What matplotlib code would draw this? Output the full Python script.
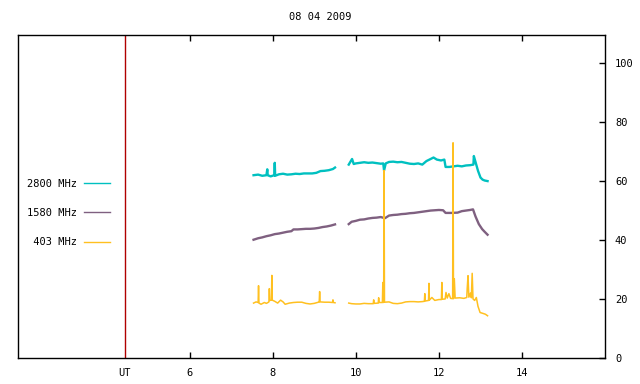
import numpy as np
import matplotlib
matplotlib.use('Agg')
import matplotlib.pyplot as plt

nan = np.nan

# 2800 MHz
t_2800 = [7.54, 7.65, 7.75, 7.85, 7.87, 7.88, 7.95, 8.04, 8.05, 8.06, 8.15, 8.25, 8.35, 8.45,
          8.55, 8.65, 8.75, 8.85, 8.95, 9.05, 9.15, 9.25, 9.35, 9.45, 9.50,
          9.65,
          9.83, 9.91, 9.95, 10.0, 10.1, 10.2, 10.3, 10.4, 10.5, 10.6, 10.66, 10.68, 10.72, 10.8,
          10.9, 11.0, 11.1, 11.2, 11.3, 11.4, 11.5, 11.6, 11.7, 11.8, 11.87, 11.95, 12.05, 12.13,
          12.16, 12.25, 12.35, 12.45, 12.55, 12.65, 12.75, 12.83, 12.84, 12.88, 12.94, 13.0,
          13.05, 13.1, 13.17]
v_2800 = [62.0, 62.2, 61.8, 62.0, 64.0, 62.0, 61.6, 62.0, 66.2, 61.8, 62.3, 62.5, 62.2, 62.3,
          62.5, 62.4, 62.6, 62.6, 62.6, 62.8, 63.4, 63.5, 63.7, 64.1, 64.6,
          nan,
          65.6, 67.5, 65.8, 66.0, 66.2, 66.4, 66.2, 66.3, 66.1, 65.9, 66.0, 63.6, 66.0, 66.5,
          66.6, 66.4, 66.5, 66.2, 65.9, 65.8, 66.0, 65.6, 66.8, 67.5, 68.0, 67.3, 67.0, 67.3,
          64.8, 64.8, 65.0, 65.2, 65.0, 65.3, 65.4, 65.6, 68.5, 66.5, 63.5, 61.2,
          60.5, 60.2, 60.0]

# 1580 MHz
t_1580 = [7.54, 7.65, 7.75, 7.85, 7.95, 8.05, 8.15, 8.25, 8.35, 8.45, 8.5, 8.6, 8.7, 8.8,
          8.9, 9.0, 9.1, 9.2, 9.3, 9.4, 9.5,
          9.65,
          9.83, 9.9, 10.0, 10.1, 10.2, 10.3, 10.4, 10.5, 10.6, 10.7, 10.8, 10.9, 11.0, 11.1,
          11.2, 11.3, 11.4, 11.5, 11.6, 11.7, 11.8, 11.9, 12.0, 12.1, 12.16, 12.3, 12.45,
          12.55, 12.65, 12.75, 12.82, 12.88, 12.96, 13.04, 13.1, 13.17]
v_1580 = [40.1, 40.6, 40.9, 41.3, 41.6, 42.0, 42.2, 42.5, 42.8, 43.0, 43.6, 43.6, 43.7, 43.8,
          43.8, 43.9, 44.1, 44.4, 44.6, 44.9, 45.3,
          nan,
          45.4, 46.2, 46.5, 46.9, 47.0, 47.3, 47.5, 47.6, 47.8, 47.4, 48.3, 48.5, 48.6, 48.8,
          48.9, 49.1, 49.2, 49.4, 49.6, 49.8, 50.0, 50.1, 50.2, 50.1, 49.2, 49.2, 49.3,
          49.8, 50.0, 50.2, 50.4, 48.0, 45.4, 43.7, 42.8, 41.8]

# 403 MHz
t_403 = [7.54, 7.6, 7.65, 7.66, 7.67, 7.72, 7.8, 7.85, 7.91, 7.92, 7.93, 7.97, 7.98, 7.99,
         8.05, 8.12, 8.19, 8.25, 8.3, 8.4, 8.5, 8.6, 8.7, 8.8, 8.9, 9.0, 9.1, 9.12, 9.13,
         9.14, 9.25, 9.35, 9.44, 9.45, 9.46, 9.5,
         9.65,
         9.83, 9.9, 10.0, 10.1, 10.2, 10.3, 10.42, 10.43, 10.44, 10.54, 10.55, 10.56, 10.64,
         10.65, 10.66, 10.67, 10.68, 10.69, 10.8, 10.9, 11.0, 11.1, 11.2, 11.3, 11.4, 11.5,
         11.6, 11.65, 11.66, 11.67, 11.75, 11.76, 11.77, 11.83, 11.9, 12.0, 12.06, 12.07,
         12.08, 12.15, 12.17, 12.2, 12.24, 12.28, 12.33, 12.34, 12.35, 12.37, 12.39, 12.5,
         12.6, 12.67, 12.68, 12.7, 12.72, 12.76, 12.78, 12.8, 12.82, 12.86, 12.9, 12.94,
         12.99, 13.08, 13.12, 13.17]
v_403 = [18.6, 19.0, 18.8, 24.5, 18.6, 18.2, 18.8, 18.5, 19.0, 23.5, 19.5, 19.6, 28.0, 19.6,
         19.2, 18.6, 19.6, 19.0, 18.2, 18.6, 18.8, 18.9, 18.9, 18.5, 18.3, 18.5, 18.9, 19.0, 22.5,
         19.0, 18.9, 18.9, 18.8, 19.7, 18.8, 18.7,
         nan,
         18.6, 18.4, 18.3, 18.3, 18.5, 18.4, 18.4, 19.7, 18.5, 18.6, 20.4, 18.8, 18.8,
         25.6, 18.8, 18.9, 63.6, 18.9, 19.0, 18.5, 18.4, 18.6, 19.0, 19.1, 19.1, 19.0,
         19.1, 19.2, 21.8, 19.3, 19.5, 25.3, 19.6, 20.5, 19.5, 19.8, 19.8, 25.6,
         19.9, 20.0, 22.2, 20.3, 21.8, 20.2, 20.1, 73.0, 20.1, 26.9, 20.3, 20.4,
         20.2, 20.5, 23.5, 27.9, 20.6, 22.0, 20.4, 28.7, 20.0, 19.5, 20.5, 17.5,
         15.4, 15.0, 14.8, 14.3]

title = '08 04 2009'
ut_pos = 4.44
x_ticks = [6, 8, 10, 12, 14]
y_ticks = [0, 20, 40, 60, 80, 100]

mono = 'DejaVu Sans Mono'
fs = 7.5

fig = plt.figure(figsize=(6.4, 3.84), dpi=100)
ax = fig.add_axes([0.0286, 0.068, 0.917, 0.841])

ax.axvline(ut_pos, color='#b00000', linewidth=1)
ax.plot(t_2800, v_2800, color='#00c0c0', linewidth=1.7, label='2800 MHz')
ax.plot(t_1580, v_1580, color='#7f6080', linewidth=1.7, label='1580 MHz')
ax.plot(t_403, v_403, color='#ffc020', linewidth=1.1, label=' 403 MHz')

ax.set_xlim(1.88, 16.0)
ax.set_ylim(0, 109.6)

ax.set_xticks([ut_pos] + x_ticks)
ax.set_xticklabels(['UT'] + [str(v) for v in x_ticks], fontfamily=mono, fontsize=fs)
ax.tick_params(axis='x', direction='in', length=4, width=1, top=True, bottom=True, pad=7)
ax.xaxis.get_major_ticks()[0].tick1line.set_visible(False)
ax.xaxis.get_major_ticks()[0].tick2line.set_visible(False)

ax.yaxis.tick_right()
ax.set_yticks(y_ticks)
ax.set_yticklabels([str(v) for v in y_ticks], fontfamily=mono, fontsize=fs)
ax.tick_params(axis='y', direction='in', length=4, width=1, left=False, right=True, pad=7)

for s in ax.spines.values():
    s.set_linewidth(1)
    s.set_color('black')

fig.text(0.5, 0.955, title, ha='center', va='center', fontfamily=mono, fontsize=fs)

leg = ax.legend(loc='center left', bbox_to_anchor=(0.0148, 0.449), frameon=False,
                markerfirst=False, borderpad=0, borderaxespad=0, handlelength=2.5,
                handletextpad=0.7, labelspacing=1.85, prop={'family': mono, 'size': fs})
for line in leg.get_lines():
    line.set_linewidth(1)

fig.savefig('out.png', dpi=100)
